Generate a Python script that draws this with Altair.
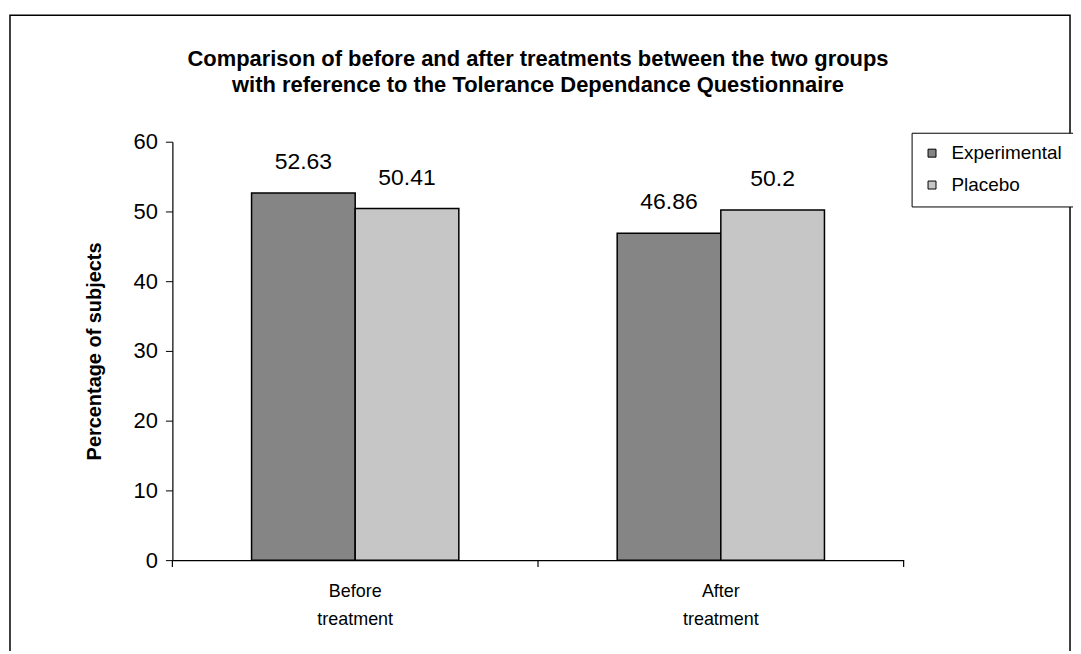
import altair as alt
import pandas as pd

groups = ["Before treatment", "After treatment"]
series = ["Experimental", "Placebo"]
experimental = [52.63, 46.86]
placebo = [50.41, 50.2]
labels_exp = ["52.63", "46.86"]
labels_pla = ["50.41", "50.2"]
y_ticks = [0, 10, 20, 30, 40, 50, 60]

rows = []
for g, v, l in zip(groups, experimental, labels_exp):
    rows.append({"group": g, "series": "Experimental", "value": v, "label": l})
for g, v, l in zip(groups, placebo, labels_pla):
    rows.append({"group": g, "series": "Placebo", "value": v, "label": l})
df = pd.DataFrame(rows)

FONT = "Liberation Sans"
W, H = 734, 420

x = alt.X("group:N", sort=groups, title=None,
          scale=alt.Scale(paddingInner=0, paddingOuter=0),
          axis=alt.Axis(labelExpr="split(datum.label, ' ')", labelAngle=0,
                        ticks=False, domainColor="black", domainWidth=1.2,
                        labelFontSize=18, labelFont=FONT, labelColor="black",
                        labelLineHeight=28, labelPadding=23))
xo = alt.XOffset("series:N", sort=series,
                 scale=alt.Scale(paddingInner=0, paddingOuter=0.764))
y = alt.Y("value:Q", title="Percentage of subjects",
          scale=alt.Scale(domain=[0, 60], nice=False),
          axis=alt.Axis(values=y_ticks, grid=False, tickSize=7, tickColor="black",
                        domainColor="black", domainWidth=1.2, labelFontSize=22,
                        labelFont=FONT, labelColor="black", labelPadding=8,
                        titleFontSize=20, titleFont=FONT, titleFontWeight="bold",
                        titleColor="black", titlePadding=29))
color = alt.Color("series:N", sort=series, title=None,
                  scale=alt.Scale(domain=series, range=["#858585", "#c6c6c6"]),
                  legend=alt.Legend(orient="none", legendX=742, legendY=-9,
                                    strokeColor="black", padding=11,
                                    symbolType="square", symbolSize=64,
                                    symbolStrokeColor="black", symbolStrokeWidth=1,
                                    labelFontSize=19, labelFont=FONT, labelColor="black",
                                    labelOffset=10, rowPadding=12, fillColor="white"))

bars = alt.Chart(df).mark_bar(stroke="black", strokeWidth=1.5).encode(
    x=x, xOffset=xo, y=y, color=color)

text = alt.Chart(df).mark_text(fontSize=23, font=FONT, color="black",
                               baseline="alphabetic", dy=-24).encode(
    x=alt.X("group:N", sort=groups), xOffset=alt.XOffset("series:N", sort=series),
    y="value:Q", text="label:N")

tick_df = pd.DataFrame({"group": groups})
xticks = alt.Chart(tick_df).mark_rule(color="black", strokeWidth=1.2).encode(
    x=alt.X("group:N", sort=groups, bandPosition=0),
    y=alt.value(H), y2=alt.value(H + 7))
end_tick = alt.Chart(pd.DataFrame({"a": [0]})).mark_rule(color="black", strokeWidth=1.2).encode(
    x=alt.value(W), y=alt.value(H), y2=alt.value(H + 7))

frame = alt.Chart(pd.DataFrame({"a": [0]})).mark_rect(
    fill=None, stroke="black", strokeWidth=1.5).encode(
    x=alt.value(-163), x2=alt.value(901), y=alt.value(-127), y2=alt.value(530))

chart = alt.layer(frame, bars, text, xticks, end_tick).properties(
    width=W, height=H,
    background="white",
    title=alt.TitleParams(
        ["Comparison of before and after treatments between the two groups",
         "with reference to the Tolerance Dependance Questionnaire"],
        fontSize=22, font=FONT, fontWeight="bold", color="black",
        anchor="middle", frame="group", lineHeight=26, offset=-83),
    autosize=alt.AutoSizeParams(type="none"),
    padding={"left": 165, "top": 133, "right": 170, "bottom": 90},
).configure_view(strokeWidth=0, stroke="transparent")

chart.save("out.html", embed_options={"renderer": "svg", "actions": False})
